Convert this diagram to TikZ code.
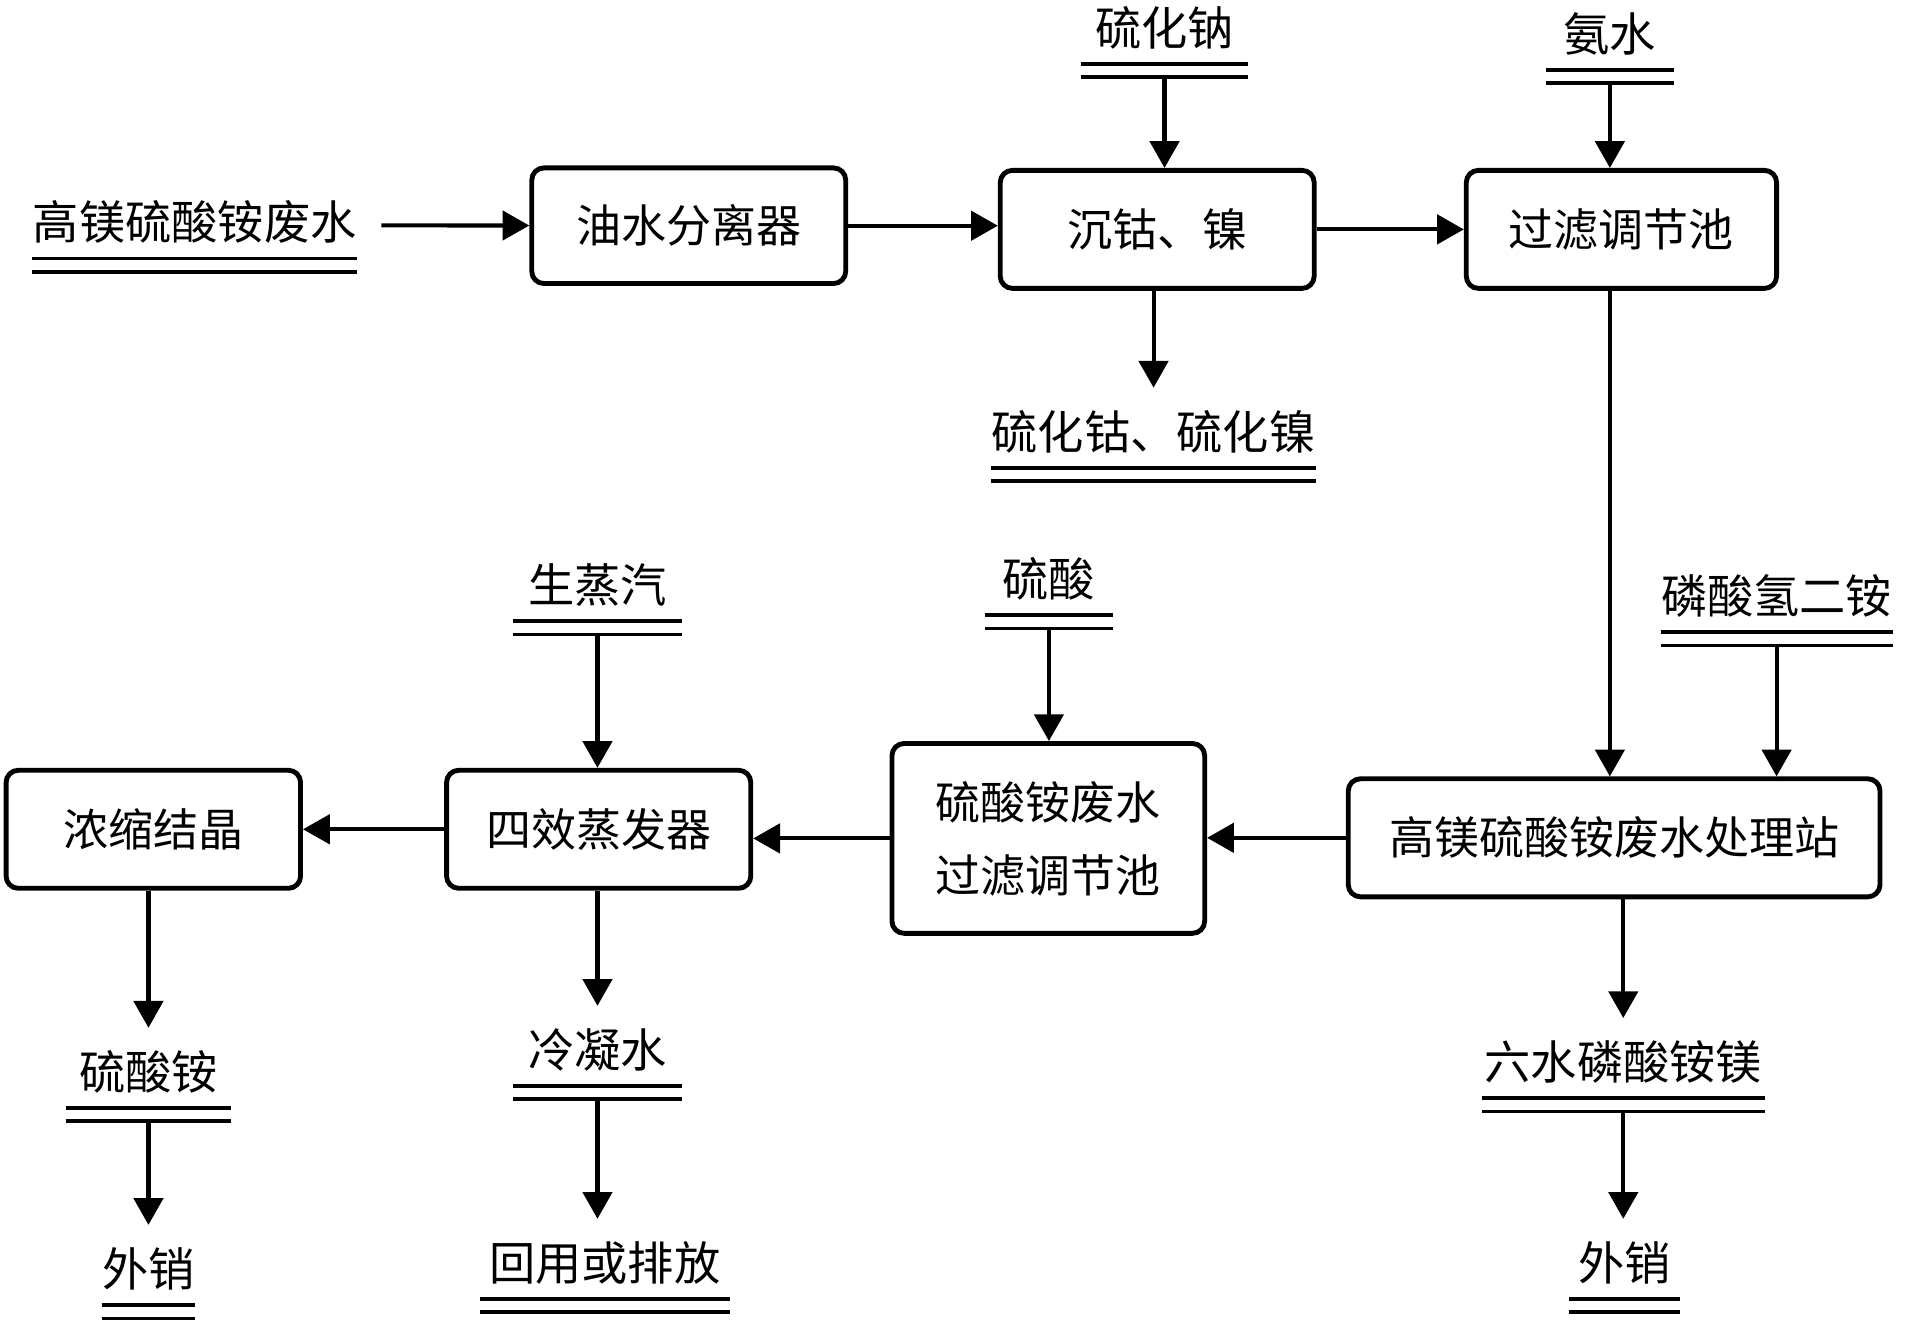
\documentclass[tikz,border=0pt]{standalone}
\usepackage{fontspec}
\setmainfont{Noto Sans CJK SC}
\usetikzlibrary{arrows.meta}

\tikzset{
  box/.style={draw, line width=2pt, rounded corners=5pt, align=center,
    font=\fontsize{18.5}{30}\selectfont},
  feed/.style={inner xsep=0pt, inner ysep=10pt, text height=15pt, text depth=3pt,
    font=\fontsize{19}{22}\selectfont},
  arr/.style={line width=1.7pt, -{Triangle[length=11pt,width=12pt]}},
  dline/.style={line width=1.5pt},
}
% two rules under a feed label
\newcommand\dbl[1]{\draw[dline] ([yshift=5.5pt]#1.south west) -- ([yshift=5.5pt]#1.south east)
  (#1.south west) -- (#1.south east);}

\begin{document}
\begin{tikzpicture}[x=0.5pt, y=-0.5pt]
  \useasboundingbox (0,0) rectangle (1568,1087);

  % upper row
  \node[feed, minimum width=132pt] (feedA) at (160,185) {高镁硫酸铵废水};
  \node[box, minimum width=129pt, minimum height=47.5pt] (sep) at (566,185.5) {油水分离器};
  \node[box, minimum width=129pt, minimum height=48.5pt] (cobni) at (951,188.5) {沉钴、镍};
  \node[box, minimum width=127.5pt, minimum height=48.5pt] (filt) at (1332.5,188.5) {过滤调节池};
  \node[feed, minimum width=68.5pt] (sulfide) at (957,25) {硫化钠};
  \node[feed, minimum width=52.5pt] (ammonia) at (1323,30) {氨水};
  \node[feed, minimum width=132pt] (cosulf) at (948,357) {硫化钴、硫化镍};

  % lower row
  \node[box, minimum width=218.5pt, minimum height=48.5pt] (station) at (1326.5,688.5) {高镁硫酸铵废水处理站};
  \node[feed, minimum width=93.5pt] (dap) at (1460,492) {磷酸氢二铵};
  \node[box, minimum width=128.5pt, minimum height=78pt] (afilt) at (861.5,689) {硫酸铵废水\\过滤调节池};
  \node[feed, minimum width=52.5pt] (acid) at (862,478) {硫酸};
  \node[box, minimum width=125pt, minimum height=48.5pt] (evap) at (492,681.5) {四效蒸发器};
  \node[feed, minimum width=69pt] (steam) at (491,483) {生蒸汽};
  \node[box, minimum width=121pt, minimum height=48.5pt] (cryst) at (126,681.5) {浓缩结晶};

  % products
  \node[feed, minimum width=67.5pt] (amsulf) at (122,883) {硫酸铵};
  \node[feed, minimum width=37.5pt] (sell1) at (122,1045) {外销};
  \node[feed, minimum width=69pt] (cond) at (491,865) {冷凝水};
  \node[feed, minimum width=102.5pt] (reuse) at (497,1040) {回用或排放};
  \node[feed, minimum width=116pt] (struv) at (1334,875) {六水磷酸铵镁};
  \node[feed, minimum width=45pt] (sell2) at (1335,1040) {外销};

  \foreach \n in {feedA,sulfide,ammonia,cosulf,dap,acid,steam,amsulf,sell1,cond,reuse,struv,sell2}
    {\dbl{\n}}

  \draw[arr, shorten <=10pt] (feedA) -- (sep);
  \draw[arr] (sep.east) -- (sep.east -| cobni.west);
  \draw[arr] (cobni.east) -- (cobni.east -| filt.west);
  \draw[arr] (sulfide.south) -- (sulfide.south |- cobni.north);
  \draw[arr] (ammonia.south) -- (ammonia.south |- filt.north);
  \draw[arr] (cosulf.north |- cobni.south) -- (cosulf.north);
  \draw[arr] (ammonia.south |- filt.south) -- (ammonia.south |- station.north);
  \draw[arr] (dap.south) -- (dap.south |- station.north);
  \draw[arr] (station.west) -- (station.west -| afilt.east);
  \draw[arr] (acid.south) -- (acid.south |- afilt.north);
  \draw[arr] (afilt.west) -- (afilt.west -| evap.east);
  \draw[arr] (steam.south) -- (steam.south |- evap.north);
  \draw[arr] (evap.west) -- (evap.west -| cryst.east);
  \draw[arr] (cryst.south -| amsulf.north) -- (amsulf.north);
  \draw[arr] (amsulf) -- (sell1);
  \draw[arr] (evap.south -| cond.north) -- (cond.north);
  \draw[arr] (cond.south) -- (cond.south |- reuse.north);
  \draw[arr] (station.south -| struv.north) -- (struv.north);
  \draw[arr] (struv.south) -- (struv.south |- sell2.north);
\end{tikzpicture}
\end{document}
